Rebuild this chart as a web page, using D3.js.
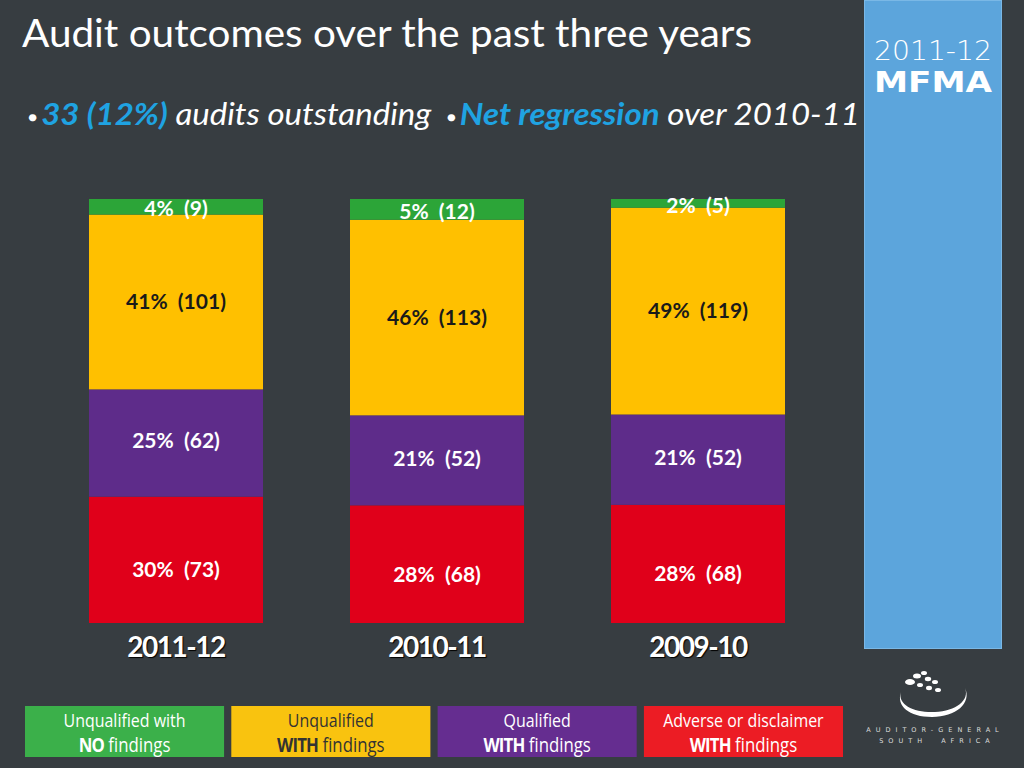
<!DOCTYPE html>
<html><head><meta charset="utf-8">
<script src="https://cdn.jsdelivr.net/npm/d3@7"></script>
<style>body{margin:0;background:#373d41;}svg{display:block;}text{white-space:pre;}</style>
</head><body>
<script>
const years = ["2011-12", "2010-11", "2009-10"];
const categories = ["Unqualified with NO findings", "Unqualified WITH findings", "Qualified WITH findings", "Adverse or disclaimer WITH findings"];
const cleanCounts = [9, 12, 5];
const unqualCounts = [101, 113, 119];
const qualCounts = [62, 52, 52];
const adverseCounts = [73, 68, 68];
const cleanPct = [4, 5, 2];
const unqualPct = [41, 46, 49];
const qualPct = [25, 21, 21];
const adversePct = [30, 28, 28];
const barColors = ["#2ca538", "#ffc000", "#5e2c8a", "#e0001a"];
const legendColors = ["#3bb04a", "#f9c30f", "#652d90", "#ec1c24"];
const legendLine1 = ["Unqualified with", "Unqualified", "Qualified", "Adverse or disclaimer"];
const legendBold = ["NO", "WITH", "WITH", "WITH"];

const W = 1024, H = 768;
const svg = d3.select("body").append("svg").attr("width", W).attr("height", H);
svg.append("rect").attr("width", W).attr("height", H).attr("fill", "#373d41");

// Title
svg.append("text").attr("x", 22).attr("y", 47).attr("fill", "#fff")
  .attr("font-family", "Lato, 'Open Sans', sans-serif").attr("font-size", 39)
  .attr("textLength", 730).attr("lengthAdjust", "spacingAndGlyphs")
  .text("Audit outcomes over the past three years");

// Bullets
const bl = svg.append("text").attr("x", 28).attr("y", 125).attr("fill", "#fff")
  .attr("font-family", "Lato, 'Open Sans', sans-serif").attr("font-size", 30).attr("font-style", "italic")
  .attr("textLength", 832).attr("lengthAdjust", "spacingAndGlyphs");
bl.append("tspan").attr("font-size", 14).attr("font-style", "normal").attr("dy", -3).text("● ");
bl.append("tspan").attr("dy", 3).attr("fill", "#1fa3e2").attr("font-weight", "bold").text("33 (12%)");
bl.append("tspan").text(" audits outstanding  ");
bl.append("tspan").attr("font-size", 14).attr("font-style", "normal").attr("dy", -3).text("● ");
bl.append("tspan").attr("dy", 3).attr("fill", "#1fa3e2").attr("font-weight", "bold").text("Net regression");
bl.append("tspan").text(" over 2010-11");

// Right panel
svg.append("rect").attr("x", 864.5).attr("y", 0.5).attr("width", 137).attr("height", 648)
  .attr("fill", "#5ca5dc").attr("stroke", "#7ab8e6").attr("stroke-width", 1);
svg.append("text").attr("x", 933).attr("y", 60).attr("text-anchor", "middle").attr("fill", "#fff")
  .attr("font-family", "'DejaVu Sans', sans-serif").attr("font-weight", 200).attr("font-size", 27)
  .attr("textLength", 118).attr("lengthAdjust", "spacingAndGlyphs").text("2011-12");
svg.append("text").attr("x", 933).attr("y", 92).attr("text-anchor", "middle").attr("fill", "#fff")
  .attr("font-family", "'DejaVu Sans', sans-serif").attr("font-weight", "bold").attr("font-size", 28)
  .attr("textLength", 118).attr("lengthAdjust", "spacingAndGlyphs").text("MFMA");

// Chart
const x = d3.scaleBand().domain(years).range([89, 785]).paddingInner(1 / 3).paddingOuter(0);
const totals = years.map((y, i) => cleanCounts[i] + unqualCounts[i] + qualCounts[i] + adverseCounts[i]);
const yS = d3.scaleLinear().domain([0, 1]).range([623, 199]);
const data = years.map((yr, i) => ({
  year: yr,
  adverse: adverseCounts[i] / totals[i], qual: qualCounts[i] / totals[i],
  unqual: unqualCounts[i] / totals[i], clean: cleanCounts[i] / totals[i],
  labels: {
    adverse: `${adversePct[i]}%  (${adverseCounts[i]})`, qual: `${qualPct[i]}%  (${qualCounts[i]})`,
    unqual: `${unqualPct[i]}%  (${unqualCounts[i]})`, clean: `${cleanPct[i]}%  (${cleanCounts[i]})`
  }
}));
const keys = ["adverse", "qual", "unqual", "clean"];
const keyColor = { adverse: barColors[3], qual: barColors[2], unqual: barColors[1], clean: barColors[0] };
const labelOffset = { adverse: 10, qual: -2, unqual: 0, clean: 2 };
const stack = d3.stack().keys(keys)(data);

const g = svg.append("g");
stack.forEach(layer => {
  g.selectAll(null).data(layer).join("rect")
    .attr("x", d => x(d.data.year)).attr("width", x.bandwidth())
    .attr("y", d => yS(d[1])).attr("height", d => yS(d[0]) - yS(d[1]))
    .attr("fill", keyColor[layer.key]);
});
stack.forEach(layer => {
  g.selectAll(null).data(layer).join("text")
    .attr("x", d => x(d.data.year) + x.bandwidth() / 2)
    .attr("y", d => (yS(d[0]) + yS(d[1])) / 2 + labelOffset[layer.key])
    .attr("dy", "0.35em").attr("text-anchor", "middle")
    .attr("fill", layer.key === "unqual" ? "#1a1a1a" : "#fff")
    .attr("font-family", "Lato, 'Open Sans', sans-serif").attr("font-weight", "bold").attr("font-size", 21)
    .text(d => d.data.labels[layer.key]);
});
// year labels
g.selectAll(null).data(years).join("text")
  .attr("x", d => x(d) + x.bandwidth() / 2).attr("y", 657).attr("text-anchor", "middle")
  .attr("fill", "#fff").attr("font-family", "Lato, 'Open Sans', sans-serif").attr("font-weight", "bold")
  .attr("font-size", 28).attr("letter-spacing", -1.5)
  .style("text-shadow", "1px 1px 1px #000").text(d => d);

// Legend
const lx = d3.scaleBand().domain(categories).range([25, 843]).paddingInner(0.035);
const lg = svg.append("g");
categories.forEach((c, i) => {
  const x0 = lx(c), w = lx.bandwidth();
  lg.append("rect").attr("x", x0).attr("y", 706).attr("width", w).attr("height", 51).attr("fill", legendColors[i]);
  const tc = i === 1 ? "#333" : "#fff";
  lg.append("text").attr("x", x0 + w / 2).attr("y", 727).attr("text-anchor", "middle").attr("fill", tc)
    .attr("font-family", "'Liberation Sans Narrow', 'Open Sans', sans-serif").attr("font-size", 19)
    .attr("transform", `translate(${(x0 + w / 2) * 0.16},0) scale(0.84,1)`)
    .text(legendLine1[i]);
  const t2 = lg.append("text").attr("x", x0 + w / 2).attr("y", 752).attr("text-anchor", "middle").attr("fill", tc)
    .attr("font-family", "'Liberation Sans Narrow', 'Open Sans', sans-serif").attr("font-size", 20)
    .attr("transform", `translate(${(x0 + w / 2) * 0.16},0) scale(0.84,1)`);
  t2.append("tspan").attr("font-weight", "bold").attr("letter-spacing", -1).text(legendBold[i]);
  t2.append("tspan").text(" findings");
});

// Logo
const logo = svg.append("g").attr("fill", "#fff");
logo.append("path").attr("d", "M901,692 C897,705 915,713 935,712 C956,711 970,700 965,688 C972,703 956,717 932,717 C909,717 896,706 901,692 Z");
[[910,682,5,3],[917,676,4,2.5],[924,673,3,2],[928,679,3.2,2.2],[935,682,3,2],[920,685,3,2],[929,688,3,2.2],[938,690,3,2]].forEach(e => {
  logo.append("ellipse").attr("cx", e[0]).attr("cy", e[1]).attr("rx", e[2]).attr("ry", e[3]);
});
svg.append("text").attr("x", 935).attr("y", 732).attr("text-anchor", "middle").attr("fill", "#ddd")
  .attr("font-family", "'DejaVu Sans', sans-serif").attr("font-size", 6.5).attr("letter-spacing", 5)
  .text("AUDITOR-GENERAL");
svg.append("text").attr("x", 937).attr("y", 743).attr("text-anchor", "middle").attr("fill", "#ddd")
  .attr("font-family", "'DejaVu Sans', sans-serif").attr("font-size", 6.5).attr("letter-spacing", 5)
  .text("SOUTH  AFRICA");
</script>
</body></html>
